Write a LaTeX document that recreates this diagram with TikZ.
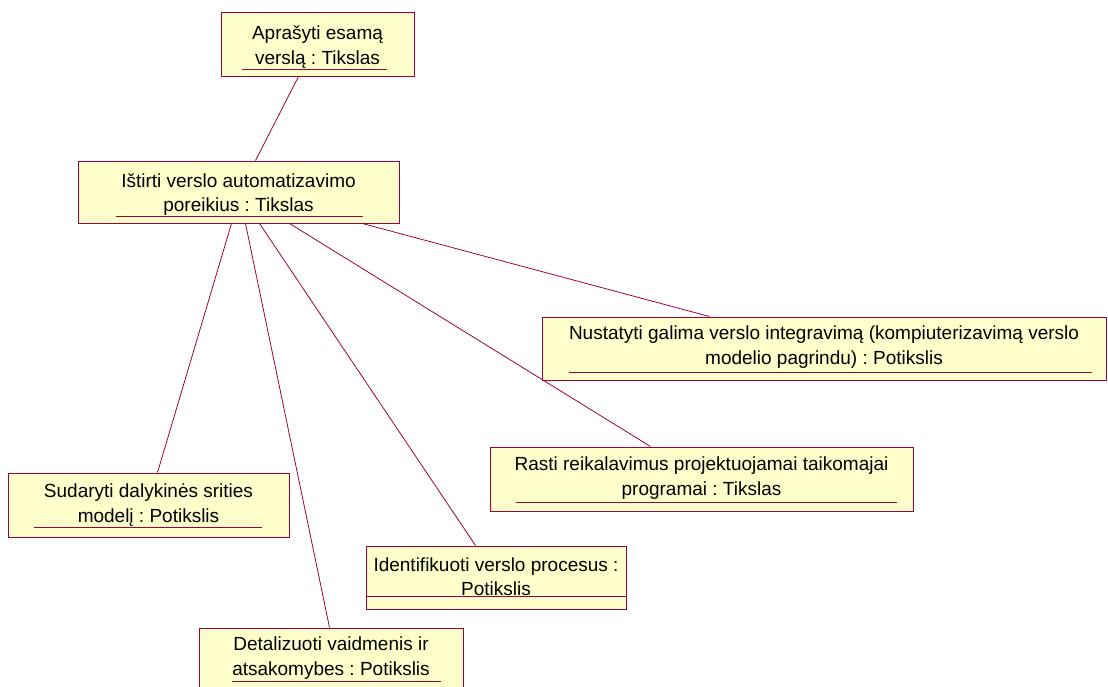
\documentclass[tikz,border=0pt]{standalone}
\usepackage{fontspec}
\setmainfont{Liberation Sans}
\usetikzlibrary{calc}
\definecolor{boxfill}{HTML}{FFFFCC}
\definecolor{edge}{HTML}{A0003C}
\frenchspacing
\tikzset{
  goal/.style={draw=edge, fill=boxfill, line width=1pt, rectangle, inner sep=0pt},
  caption/.style={font=\fontsize{19}{24.5}\selectfont, align=center, inner sep=0pt},
  link/.style={draw=edge, line width=0.8pt},
  rule/.style={draw=edge, line width=0.8pt}
}
\begin{document}
\begin{tikzpicture}[x=1pt, y=-1pt]
\useasboundingbox (0,0) rectangle (1108,686);

% goal boxes
\node[goal, minimum width=193pt, minimum height=64pt] (b1) at (317.5,44) {};
\node[goal, minimum width=321pt, minimum height=62pt] (b2) at (238.5,192) {};
\node[goal, minimum width=564pt, minimum height=63pt] (b3) at (824,348.5) {};
\node[goal, minimum width=423pt, minimum height=64pt] (b4) at (701.5,479) {};
\node[goal, minimum width=281pt, minimum height=64pt] (b5) at (148.5,505) {};
\node[goal, minimum width=260pt, minimum height=63pt] (b6) at (496,577.5) {};
\node[goal, minimum width=264pt, minimum height=72pt] (b7) at (331,664) {};

% captions
\node[caption] (t1) at (317.5,47) {Aprašyti esamą\\verslą : Tikslas};
\node[caption] (t2) at (238.5,194.5) {Ištirti verslo automatizavimo\\poreikius : Tikslas};
\node[caption] (t3) at (824,347) {Nustatyti galima verslo integravimą (kompiuterizavimą verslo\\modelio pagrindu) : Potikslis};
\node[caption] (t4) at (701.5,478) {Rasti reikalavimus projektuojamai taikomajai\\programai : Tikslas};
\node[caption] (t5) at (148.5,505) {Sudaryti dalykinės srities\\modelį : Potikslis};
\node[caption] (t6) at (496,576.5) {Identifikuoti verslo procesus :\\Potikslis};
\node[caption] (t7) at (331,658) {Detalizuoti vaidmenis ir\\atsakomybes : Potikslis};

% name underlines
\draw[rule] (242,69) -- (387,69);
\draw[rule] (116,216) -- (363,216);
\draw[rule] (569,372) -- (1092,372);
\draw[rule] (516,502) -- (897,502);
\draw[rule] (34,527) -- (262,527);
\draw[rule] (366,596) -- (626,596);
\draw[rule] (232,681) -- (441,681);

% links
\draw[link] ($(b1.south west)+(78,0)$) -- ($(b2.north west)+(178,0)$);
\draw[link] ($(b2.south west)+(154,0)$) -- ($(b5.north west)+(150,0)$);
\draw[link] ($(b2.south west)+(168,0)$) -- ($(b7.north west)+(131,0)$);
\draw[link] ($(b2.south west)+(182,0)$) -- ($(b6.north west)+(110,0)$);
\draw[link] ($(b2.south west)+(212,0)$) -- ($(b4.north west)+(161,0)$);
\draw[link] ($(b2.south west)+(285,0)$) -- ($(b3.north west)+(168,0)$);
\end{tikzpicture}
\end{document}
